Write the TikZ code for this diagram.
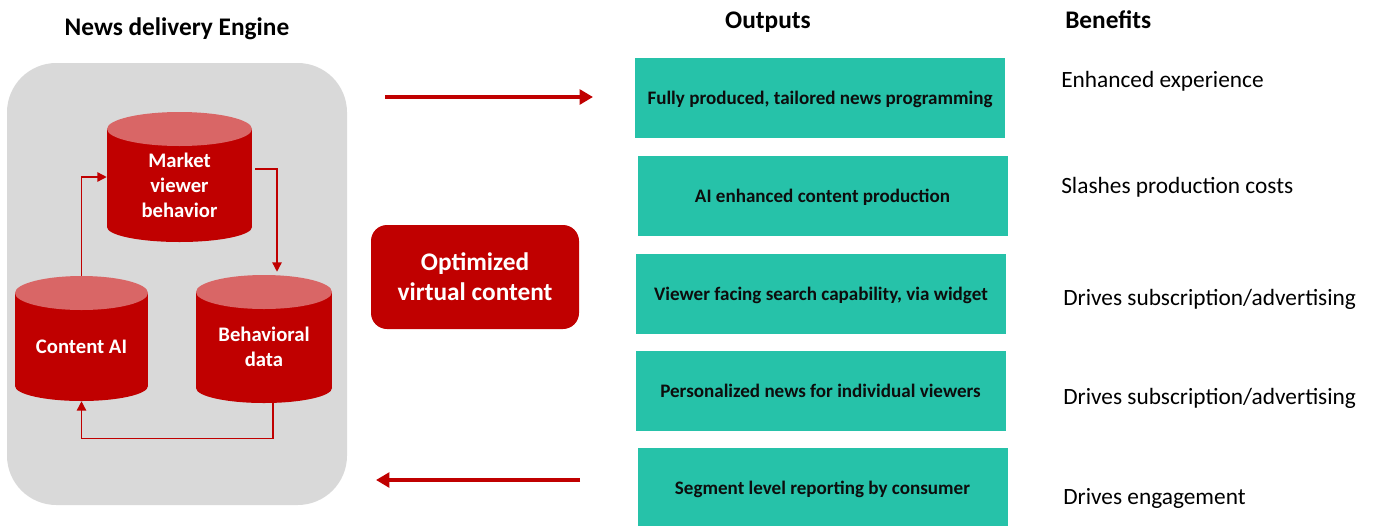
\documentclass[tikz,border=0pt]{standalone}
\usepackage{fontspec}
\setmainfont{Carlito}
\usetikzlibrary{arrows.meta}
\definecolor{dred}{HTML}{C00000}
\definecolor{lred}{HTML}{D96666}
\definecolor{tealbox}{HTML}{26C2A9}
\definecolor{panelgray}{HTML}{D9D9D9}
\newcommand\cylshape[6]{%
  \fill[dred] ({#2-#4/2},{#3+17}) rectangle ({#2+#4/2},{#3+#5-15});
  \fill[dred] (#2,{#3+#5-15}) ellipse [x radius={#4*0.375pt}, y radius={15*0.75pt}];
  \fill[lred] (#2,{#3+17}) ellipse [x radius={#4*0.375pt}, y radius={17*0.75pt}];
  \node[cylbox, minimum width={#4*0.75pt}, minimum height={#5*0.75pt}] (#1) at (#2,{#3+#5/2}) {};
  \node[cyltext] (#1-t) at ([shift={(0,8)}]#1.center) {#6};
}
\begin{document}
\begin{tikzpicture}[x=0.75pt,y=-0.75pt,
  header/.style={font=\bfseries\fontsize{19}{22}\selectfont, text=black, inner sep=0pt},
  benefit/.style={font=\fontsize{17.5}{21}\selectfont, text=black, anchor=base west, inner sep=0pt},
  outbox/.style={fill=tealbox, draw=none, minimum width=370*0.75pt, minimum height=80*0.75pt,
     font=\bfseries\fontsize{14.3}{16}\selectfont, text=black!95, inner sep=0pt, text depth=0pt},
  cylbox/.style={draw=none, inner sep=0pt},
  cyltext/.style={text=white, font=\bfseries\fontsize{15.5}{18.75}\selectfont, align=center, inner sep=0pt},
  conn/.style={draw=dred, line width=1.4pt*0.75, -{Triangle[length=7pt,width=7pt]}},
  bigarrow/.style={draw=dred, line width=3pt, -{Triangle[length=10pt,width=11pt]}},
]
\useasboundingbox (0,0) rectangle (1373,525);

% panel
\node[fill=panelgray, rounded corners=37pt, minimum width=340*0.75pt, minimum height=442*0.75pt, inner sep=0pt] (panel) at (177,284) {};

% headers
\node[header, anchor=base] (h1) at (177,35) {News delivery Engine};
\node[header, anchor=base] (h2) at (768,28) {Outputs};
\node[header, anchor=base west] (h3) at (1065,28) {Benefits};

% cylinders
\cylshape{mkt}{179.5}{112}{145}{130}{Market\\viewer\\behavior}
\cylshape{cai}{81.5}{276}{133}{125}{Content AI}
\cylshape{bd}{264}{275}{136}{128}{Behavioral\\data}

% loop connectors
\draw[conn] (cai.north) |- (mkt.west);
\draw[conn] ([shift={(3,-8)}]mkt.east) -| ([shift={(13,-3)}]bd.north);
\draw[conn] ([shift={(9,0)}]bd.south) -- ++(0,35) -| (cai.south);

% optimized virtual content
\node[fill=dred, rounded corners=12pt, minimum width=208*0.75pt, minimum height=104*0.75pt,
  text=white, font=\bfseries\fontsize{19}{22.5}\selectfont, align=center, inner sep=0pt] (opt) at (475,277) {Optimized\\virtual content};

% output boxes
\node[outbox] (o1) at (820,98) {Fully produced, tailored news programming};
\node[outbox] (o2) at (822.5,196) {AI enhanced content production};
\node[outbox] (o3) at (821,294) {Viewer facing search capability, via widget};
\node[outbox] (o4) at (820.5,391) {Personalized news for individual viewers};
\node[outbox] (o5) at (822.5,488) {Segment level reporting by consumer};

% big arrows
\coordinate (a1s) at (385,97);
\coordinate (a1e) at (593,97);
\coordinate (a2s) at (580,480);
\coordinate (a2e) at (376,480);
\draw[bigarrow] (a1s) -- (a1e);
\draw[bigarrow] (a2s) -- (a2e);

% benefits
\node[benefit] (b1) at (1061,87) {Enhanced experience};
\node[benefit] (b2) at (1061,193) {Slashes production costs};
\node[benefit] (b3) at (1063,305) {Drives subscription/advertising};
\node[benefit] (b4) at (1063,404) {Drives subscription/advertising};
\node[benefit] (b5) at (1063,504) {Drives engagement};
\end{tikzpicture}
\end{document}
